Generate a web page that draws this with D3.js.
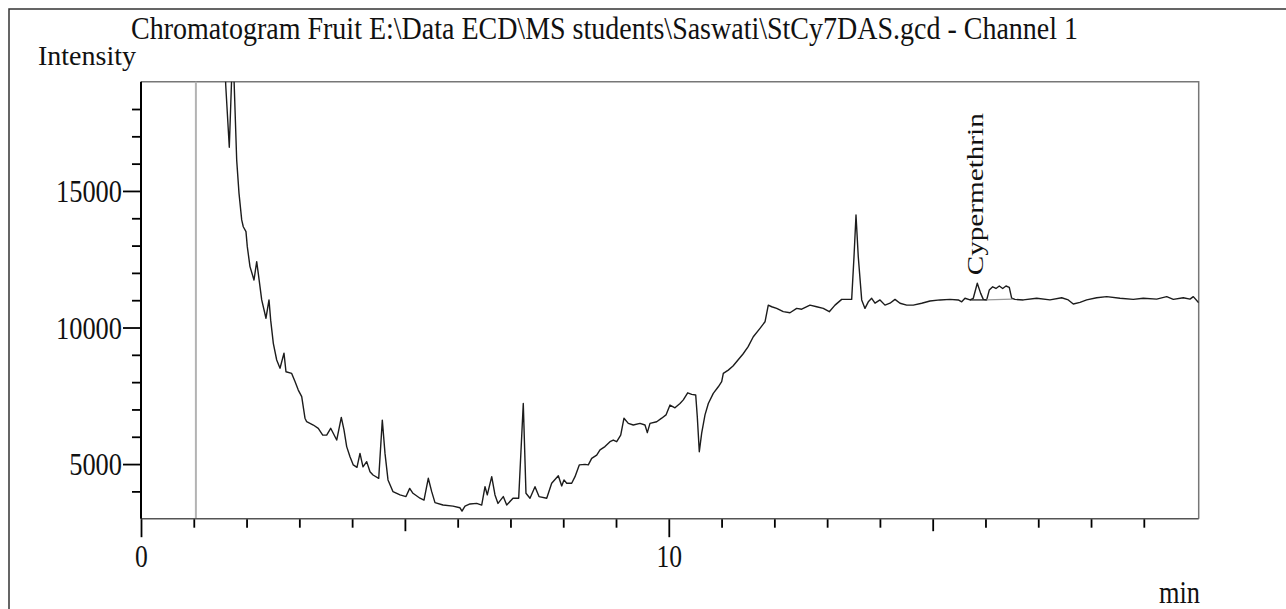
<!DOCTYPE html>
<html>
<head>
<meta charset="utf-8">
<script src="https://cdn.jsdelivr.net/npm/d3@7"></script>
<style>
  html, body { margin: 0; padding: 0; background: #fff; }
  svg { display: block; }
</style>
</head>
<body>
<svg id="chart" width="1286" height="609"></svg>
<script>
// Retention time (min) of each recorded point of the detector trace
const timeMin = [
  1.573, 1.605, 1.673, 1.724, 1.747, 1.813, 1.857, 1.908, 1.938, 1.989,
  2.014, 2.065, 2.141, 2.192, 2.222, 2.287, 2.368, 2.425, 2.457, 2.507,
  2.571, 2.634, 2.709, 2.747, 2.855, 2.918, 2.980, 3.045, 3.107, 3.139,
  3.265, 3.359, 3.443, 3.518, 3.594, 3.708, 3.795, 3.846, 3.897, 3.960,
  4.022, 4.092, 4.149, 4.206, 4.276, 4.339, 4.396, 4.504, 4.572, 4.623,
  4.680, 4.775, 4.907, 5.021, 5.091, 5.153, 5.286, 5.362, 5.443, 5.508,
  5.570, 5.722, 5.911, 6.044, 6.082, 6.139, 6.233, 6.360, 6.455, 6.518,
  6.561, 6.645, 6.707, 6.764, 6.864, 6.929, 7.048, 7.156, 7.243, 7.294,
  7.370, 7.465, 7.541, 7.687, 7.781, 7.907, 7.971, 8.014, 8.066, 8.160,
  8.223, 8.304, 8.412, 8.475, 8.539, 8.634, 8.697, 8.791, 8.886, 8.948,
  9.013, 9.089, 9.151, 9.233, 9.327, 9.454, 9.549, 9.593, 9.644, 9.771,
  9.865, 9.947, 10.023, 10.117, 10.212, 10.275, 10.358, 10.434, 10.510, 10.540,
  10.578, 10.623, 10.686, 10.749, 10.843, 10.938, 11.002, 11.033, 11.127, 11.217,
  11.311, 11.406, 11.501, 11.601, 11.728, 11.823, 11.885, 11.950, 12.044, 12.169,
  12.296, 12.423, 12.518, 12.675, 12.802, 12.927, 13.041, 13.149, 13.276, 13.401,
  13.465, 13.509, 13.547, 13.590, 13.655, 13.717, 13.780, 13.844, 13.907, 14.002,
  14.096, 14.191, 14.286, 14.381, 14.507, 14.632, 14.792, 14.949, 15.138, 15.328,
  15.485, 15.550, 15.612, 15.707, 15.769, 15.845, 15.909, 15.959, 16.023, 16.072,
  16.137, 16.199, 16.262, 16.326, 16.389, 16.451, 16.497, 16.559, 16.717, 16.970,
  17.222, 17.444, 17.569, 17.664, 17.791, 17.918, 18.107, 18.297, 18.549, 18.801,
  18.990, 19.244, 19.434, 19.559, 19.748, 19.875, 19.938, 20.040
];

// Detector intensity at each of those times
const intensity = [
  21000, 18880, 16600, 19500, 20000, 16130, 14910, 13940, 13690, 13510,
  12960, 12230, 11740, 12410, 11980, 11010, 10340, 11010, 10270, 9420,
  8810, 8510, 9060, 8380, 8320, 8020, 7710, 7470, 6680, 6550,
  6430, 6310, 6060, 6060, 6310, 5880, 6710, 6250, 5640, 5270,
  4970, 4880, 5390, 4900, 5090, 4720, 4600, 4480, 6610, 5390,
  4420, 3990, 3870, 3810, 4110, 3930, 3750, 3680, 4480, 3990,
  3590, 3500, 3460, 3400, 3280, 3460, 3540, 3560, 3500, 4170,
  3870, 4540, 3870, 3560, 3810, 3500, 3750, 3750, 7220, 3930,
  3750, 4170, 3810, 3750, 4300, 4570, 4200, 4420, 4300, 4300,
  4540, 4970, 4990, 4970, 5210, 5330, 5520, 5640, 5820, 5880,
  5820, 6060, 6680, 6490, 6430, 6490, 6430, 6150, 6490, 6550,
  6680, 6800, 7160, 7060, 7220, 7350, 7610, 7550, 7530, 6730,
  5450, 6130, 6800, 7220, 7590, 7830, 8020, 8320, 8440, 8590,
  8810, 9030, 9290, 9660, 9970, 10210, 10820, 10760, 10700, 10580,
  10540, 10700, 10670, 10820, 10760, 10700, 10580, 10820, 11030, 11030,
  11030, 12590, 14120, 12590, 11010, 10700, 10940, 11070, 10890, 11010,
  10820, 10890, 11030, 10890, 10820, 10820, 10890, 10970, 11010, 11030,
  11010, 10940, 11070, 11010, 11070, 11620, 11250, 11030, 11010, 11370,
  11490, 11430, 11520, 11430, 11520, 11470, 11070, 11030, 11010, 11070,
  11010, 11090, 11010, 10860, 10920, 11010, 11090, 11130, 11070, 11030,
  11070, 11040, 11130, 11030, 11090, 11040, 11130, 10910
];

// Axis ticks
const yLabelTicks = [5000, 10000, 15000];
const yMinorTicks = [4000, 6000, 7000, 8000, 9000, 11000, 12000, 13000, 14000, 16000, 17000, 18000];
const xLabelTicks = [0, 10];
const xMidTicks = [5, 15];
const xMinorTicks = [1, 2, 3, 4, 6, 7, 8, 9, 11, 12, 13, 14, 16, 17, 18, 19];

// Texts
const titleText = "Chromatogram Fruit E:\\Data ECD\\MS students\\Saswati\\StCy7DAS.gcd - Channel 1";
const yAxisTitle = "Intensity";
const xAxisTitle = "min";

// Injection marker and the identified peak with its integration baseline
const injectionTime = 1.04;
const peakName = "Cypermethrin";
const peakTime = 15.845;
const peakTop = 11620;
const baselineDark = [[15.707, 11010], [16.023, 11010]];
const baselineLight = [[16.023, 11010], [16.51, 11040]];

const svg = d3.select("#chart");
const serif = "'Liberation Serif', 'Times New Roman', serif";
const ink = "#111";

// Plot frame
const pLeft = 141, pRight = 1198.7, pTop = 81.7, pBottom = 518.7;
const x = d3.scaleLinear().domain([0, 20.04]).range([pLeft, pRight]);
const y = d3.scaleLinear().domain([3000, 19000]).range([pBottom, pTop]);

// Outer page frame (top and left edges)
svg.append("path")
  .attr("d", "M9,609 L9,9 L1286,9")
  .attr("fill", "none").attr("stroke", "#333").attr("stroke-width", 1.5);

// Title and axis names
svg.append("text").text(titleText)
  .attr("x", 131).attr("y", 39)
  .attr("font-family", serif).attr("font-size", 31).attr("fill", ink)
  .attr("textLength", 947).attr("lengthAdjust", "spacingAndGlyphs");

svg.append("text").text(yAxisTitle)
  .attr("x", 38).attr("y", 64.5)
  .attr("font-family", serif).attr("font-size", 27).attr("fill", ink)
  .attr("textLength", 98).attr("lengthAdjust", "spacingAndGlyphs");

svg.append("text").text(xAxisTitle)
  .attr("x", 1159).attr("y", 603)
  .attr("font-family", serif).attr("font-size", 31).attr("fill", ink)
  .attr("textLength", 41).attr("lengthAdjust", "spacingAndGlyphs");

// Top and right borders of the plot box
svg.append("path")
  .attr("d", `M${pLeft},${pTop} L${pRight},${pTop} L${pRight},${pBottom}`)
  .attr("fill", "none").attr("stroke", "#777").attr("stroke-width", 1.5);

// Injection marker line
svg.append("line")
  .attr("x1", x(injectionTime)).attr("x2", x(injectionTime))
  .attr("y1", pTop).attr("y2", pBottom)
  .attr("stroke", "#b3b3b3").attr("stroke-width", 2);

// Y axis: minor and labelled ticks
function styleAxis(g) {
  g.select(".domain").remove();
  g.selectAll(".tick line").attr("stroke", "#000").attr("stroke-width", 1.8);
}
svg.append("g").attr("transform", `translate(${pLeft},0)`)
  .call(d3.axisLeft(y).tickValues(yMinorTicks).tickSize(9).tickFormat(""))
  .call(styleAxis);

const yLab = svg.append("g").attr("transform", `translate(${pLeft},0)`)
  .call(d3.axisLeft(y).tickValues(yLabelTicks).tickSize(18).tickPadding(1).tickFormat(d3.format("d")))
  .call(styleAxis);
yLab.selectAll(".tick text")
  .attr("font-family", serif).attr("font-size", 31).attr("fill", ink)
  .attr("dy", 10.5)
  .attr("textLength", d => String(d).length * 13.2)
  .attr("lengthAdjust", "spacingAndGlyphs");

// X axis: minor, middle and labelled ticks
svg.append("g").attr("transform", `translate(0,${pBottom})`)
  .call(d3.axisBottom(x).tickValues(xMinorTicks).tickSize(9).tickFormat(""))
  .call(styleAxis);
svg.append("g").attr("transform", `translate(0,${pBottom})`)
  .call(d3.axisBottom(x).tickValues(xMidTicks).tickSize(12.5).tickFormat(""))
  .call(styleAxis);
const xLab = svg.append("g").attr("transform", `translate(0,${pBottom})`)
  .call(d3.axisBottom(x).tickValues(xLabelTicks).tickSize(18.5).tickFormat(d3.format("d")))
  .call(styleAxis);
xLab.selectAll(".tick text")
  .attr("font-family", serif).attr("font-size", 31).attr("fill", ink)
  .attr("y", 48).attr("dy", 0)
  .attr("textLength", d => String(d).length * 12.8)
  .attr("lengthAdjust", "spacingAndGlyphs");

// Axis lines
svg.append("line")
  .attr("x1", pLeft).attr("x2", pRight).attr("y1", pBottom).attr("y2", pBottom)
  .attr("stroke", "#555").attr("stroke-width", 1.6);
svg.append("line")
  .attr("x1", pLeft).attr("x2", pLeft).attr("y1", pTop).attr("y2", pBottom)
  .attr("stroke", "#000").attr("stroke-width", 2);

// Detector trace clipped to the plot area
svg.append("clipPath").attr("id", "plotClip")
  .append("rect").attr("x", pLeft).attr("y", pTop)
  .attr("width", pRight - pLeft).attr("height", pBottom - pTop);

const trace = timeMin.map((t, i) => [t, intensity[i]]);
const line = d3.line().x(d => x(d[0])).y(d => y(d[1]));

svg.append("path")
  .datum(trace)
  .attr("clip-path", "url(#plotClip)")
  .attr("d", line)
  .attr("fill", "none").attr("stroke", "#1c1c1c")
  .attr("stroke-width", 1.4).attr("stroke-linejoin", "round");

// Integration baseline under the labelled peak
svg.append("path").datum(baselineDark).attr("d", line)
  .attr("fill", "none").attr("stroke", "#222").attr("stroke-width", 1.3);
svg.append("path").datum(baselineLight).attr("d", line)
  .attr("fill", "none").attr("stroke", "#999").attr("stroke-width", 1.3);

// Peak name, written upward above the peak
svg.append("text").text(peakName)
  .attr("transform", `translate(${x(peakTime) + 6},${y(peakTop) - 8}) scale(0.79,1) rotate(-90)`)
  .attr("font-family", serif).attr("font-size", 29).attr("fill", ink)
  .attr("textLength", 162).attr("lengthAdjust", "spacingAndGlyphs");
</script>
</body>
</html>
